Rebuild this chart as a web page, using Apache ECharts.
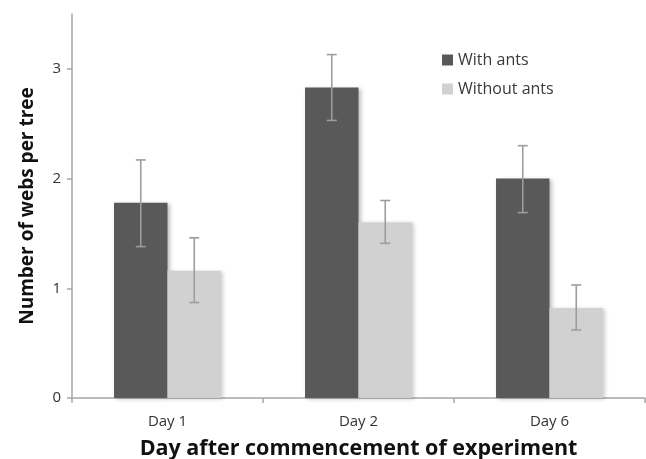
<!DOCTYPE html>
<html>
<head>
<meta charset="utf-8">
<script src="https://cdn.jsdelivr.net/npm/echarts@6/dist/echarts.min.js"></script>
<style>
html,body{margin:0;padding:0;background:#fff;}
#c{width:646px;height:459px;}
</style>
</head>
<body>
<div id="c"></div>
<script>
var categories = ["Day 1", "Day 2", "Day 6"];
var withAnts = [1.78, 2.83, 2.00];
var withAntsLow = [1.38, 2.53, 1.69];
var withAntsHigh = [2.17, 3.13, 2.30];
var withoutAnts = [1.16, 1.60, 0.82];
var withoutAntsLow = [0.87, 1.41, 0.62];
var withoutAntsHigh = [1.46, 1.80, 1.03];
var yTicks = [0, 1, 2, 3];

var FONT = "Open Sans";
var BAR_FRAC = 0.28;

function errorSeries(name, low, high, side) {
  return {
    type: 'custom',
    name: name + ' error',
    z: 10,
    silent: true,
    data: categories.map(function (c, i) { return [i, low[i], high[i]]; }),
    renderItem: function (params, api) {
      var idx = api.value(0);
      var band = api.size([1, 0])[0];
      var off = side * band * BAR_FRAC / 2;
      var pLow = api.coord([idx, api.value(1)]);
      var pHigh = api.coord([idx, api.value(2)]);
      var x = pLow[0] + off;
      var cap = 5;
      var style = { stroke: '#9d9d9d', lineWidth: 1.6, fill: null };
      return {
        type: 'group',
        children: [
          { type: 'line', shape: { x1: x, y1: pLow[1], x2: x, y2: pHigh[1] }, style: style },
          { type: 'line', shape: { x1: x - cap, y1: pLow[1], x2: x + cap, y2: pLow[1] }, style: style },
          { type: 'line', shape: { x1: x - cap, y1: pHigh[1], x2: x + cap, y2: pHigh[1] }, style: style }
        ]
      };
    }
  };
}

var chart = echarts.init(document.getElementById('c'));
chart.setOption({
  animation: false,
  backgroundColor: '#ffffff',
  textStyle: { fontFamily: FONT },
  grid: { left: 72, right: 1, top: 14, bottom: 61, containLabel: false, outerBoundsMode: 'none' },
  legend: {
    orient: 'vertical',
    left: 437,
    top: 47,
    itemWidth: 11,
    itemHeight: 11,
    itemGap: 13,
    icon: 'rect',
    data: ['With ants', 'Without ants'],
    textStyle: { fontFamily: FONT, fontSize: 16, color: '#3a3a3a' }
  },
  xAxis: {
    type: 'category',
    data: categories,
    name: 'Day after commencement of experiment',
    nameLocation: 'middle',
    nameGap: 40,
    nameTextStyle: { fontFamily: FONT, fontSize: 21.5, fontWeight: 'bold', color: '#111' },
    axisLine: { lineStyle: { color: '#a6a6a6', width: 1.5 } },
    axisTick: { show: true, length: 5, lineStyle: { color: '#a6a6a6', width: 1.5 } },
    axisLabel: { fontFamily: FONT, fontSize: 15, color: '#333', margin: 16 }
  },
  yAxis: {
    type: 'value',
    min: 0,
    max: 3.5,
    interval: 1,
    name: 'Number of webs per tree',
    nameLocation: 'middle',
    nameGap: 35,
    nameTextStyle: { fontFamily: FONT, fontSize: 19, fontWeight: 'bold', color: '#111' },
    splitLine: { show: false },
    axisLine: { show: true, lineStyle: { color: '#a6a6a6', width: 1.5 } },
    axisTick: { show: true, length: 5, customValues: yTicks, lineStyle: { color: '#a6a6a6', width: 1.5 } },
    axisLabel: { fontFamily: FONT, fontSize: 15, color: '#333', margin: 11, customValues: yTicks }
  },
  series: [
    {
      type: 'bar',
      name: 'With ants',
      data: withAnts,
      barWidth: (BAR_FRAC * 100) + '%',
      barGap: '0%',
      itemStyle: { color: '#595959', shadowColor: 'rgba(0,0,0,0.25)', shadowBlur: 4, shadowOffsetX: 2, shadowOffsetY: 1 }
    },
    {
      type: 'bar',
      name: 'Without ants',
      data: withoutAnts,
      barWidth: (BAR_FRAC * 100) + '%',
      barGap: '0%',
      itemStyle: { color: '#d0d1d0', shadowColor: 'rgba(0,0,0,0.2)', shadowBlur: 4, shadowOffsetX: 2, shadowOffsetY: 1 }
    },
    errorSeries('With ants', withAntsLow, withAntsHigh, -1),
    errorSeries('Without ants', withoutAntsLow, withoutAntsHigh, 1)
  ]
});
</script>
</body>
</html>
